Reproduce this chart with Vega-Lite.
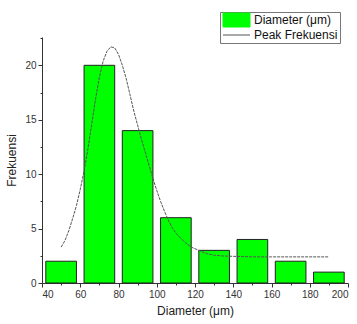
{
  "$schema": "https://vega.github.io/schema/vega-lite/v6.json",
  "width": 306,
  "height": 246,
  "autosize": {"type": "none"},
  "padding": {"left": 42, "top": 37, "right": 9, "bottom": 41},
  "background": "white",
  "config": {
    "view": {"stroke": null},
    "font": "Liberation Sans",
    "legend": {
      "strokeColor": "#777777",
      "fillColor": "white",
      "strokeWidth": 1,
      "padding": 2,
      "rowPadding": 0,
      "symbolSize": 100,
      "labelFontSize": 12,
      "labelOffset": 20,
      "labelColor": "#111111"
    },
    "axis": {
      "grid": false,
      "domainColor": "#333333",
      "tickColor": "#333333",
      "labelColor": "#333333",
      "labelFontSize": 10,
      "titleFontSize": 12,
      "titleFontWeight": "normal",
      "titleColor": "#222222",
      "tickSize": 4,
      "labelPadding": 2
    }
  },
  "datasets": {
    "bars": [
      {"start": 40, "end": 60, "count": 2},
      {"start": 60, "end": 80, "count": 20},
      {"start": 80, "end": 100, "count": 14},
      {"start": 100, "end": 120, "count": 6},
      {"start": 120, "end": 140, "count": 3},
      {"start": 140, "end": 160, "count": 4},
      {"start": 160, "end": 180, "count": 2},
      {"start": 180, "end": 200, "count": 1}
    ],
    "curve": [
      {"d": 50, "f": 3.3}, {"d": 52, "f": 3.9}, {"d": 54, "f": 4.8}, {"d": 56, "f": 5.9},
      {"d": 58, "f": 7.1}, {"d": 60, "f": 8.6}, {"d": 62, "f": 10.3}, {"d": 64, "f": 12.3},
      {"d": 66, "f": 14.6}, {"d": 68, "f": 16.9}, {"d": 70, "f": 18.9}, {"d": 72, "f": 20.4},
      {"d": 74, "f": 21.3}, {"d": 76, "f": 21.7}, {"d": 78, "f": 21.6}, {"d": 80, "f": 21.0},
      {"d": 82, "f": 20.0}, {"d": 84, "f": 18.8}, {"d": 86, "f": 17.3}, {"d": 88, "f": 15.8},
      {"d": 90, "f": 14.5}, {"d": 92, "f": 13.2}, {"d": 94, "f": 12.0}, {"d": 96, "f": 10.8},
      {"d": 98, "f": 9.6}, {"d": 100, "f": 8.5}, {"d": 102, "f": 7.5}, {"d": 104, "f": 6.6},
      {"d": 106, "f": 5.8}, {"d": 108, "f": 5.1}, {"d": 110, "f": 4.6}, {"d": 112, "f": 4.2},
      {"d": 115, "f": 3.7}, {"d": 118, "f": 3.3}, {"d": 122, "f": 3.0}, {"d": 126, "f": 2.7},
      {"d": 130, "f": 2.55}, {"d": 135, "f": 2.48}, {"d": 140, "f": 2.45}, {"d": 150, "f": 2.4},
      {"d": 160, "f": 2.4}, {"d": 170, "f": 2.4}, {"d": 180, "f": 2.4}, {"d": 190, "f": 2.4}
    ]
  },
  "resolve": {"axis": {"x": "independent", "y": "independent"}},
  "layer": [
    {
      "data": {"name": "bars"},
      "mark": {"type": "bar", "stroke": "#222222", "strokeWidth": 1, "xOffset": 3.8, "x2Offset": -3.8, "opacity": 1},
      "encoding": {
        "x": {
          "field": "start", "type": "quantitative",
          "scale": {"domain": [40, 200], "nice": false, "zero": false},
          "axis": {"values": [40, 60, 80, 100, 120, 140, 160, 180, 200], "title": "Diameter (μm)", "titlePadding": 6}
        },
        "x2": {"field": "end"},
        "y": {
          "field": "count", "type": "quantitative",
          "scale": {"domain": [0, 22.6], "nice": false},
          "axis": {"values": [0, 5, 10, 15, 20], "title": "Frekuensi", "titlePadding": 6}
        },
        "y2": {"datum": 0},
        "color": {
          "datum": "Diameter (μm)",
          "scale": {"domain": ["Diameter (μm)", "Peak Frekuensi"], "range": ["#00FF00", "#555555"]},
          "legend": {
            "orient": "none",
            "legendX": 178,
            "legendY": -25,
            "title": null,
            "encoding": {
              "symbols": {
                "shape": {"value": {"expr": "datum.value === 'Peak Frekuensi' ? 'M-1,0H4.4' : 'M-1,-1.4H4.4V1.4H-1Z'"}},
                "fill": {"value": {"expr": "datum.value === 'Peak Frekuensi' ? 'transparent' : '#00FF00'"}},
                "stroke": {"value": {"expr": "datum.value === 'Peak Frekuensi' ? '#555555' : '#222222'"}},
                "strokeWidth": {"value": 1},
                "opacity": {"value": 1}
              }
            }
          }
        }
      }
    },
    {
      "data": {"name": "curve"},
      "mark": {"type": "line", "strokeWidth": 1, "strokeDash": [3, 1]},
      "encoding": {
        "x": {
          "field": "d", "type": "quantitative",
          "axis": {"orient": "bottom", "values": [50, 70, 90, 110, 130, 150, 170, 190], "labels": false, "domain": false, "tickSize": 2, "title": null}
        },
        "y": {
          "field": "f", "type": "quantitative",
          "axis": {"orient": "left", "values": [2.5, 7.5, 12.5, 17.5, 22.5], "labels": false, "domain": false, "tickSize": 2, "title": null}
        },
        "color": {"datum": "Peak Frekuensi"}
      }
    }
  ]
}
